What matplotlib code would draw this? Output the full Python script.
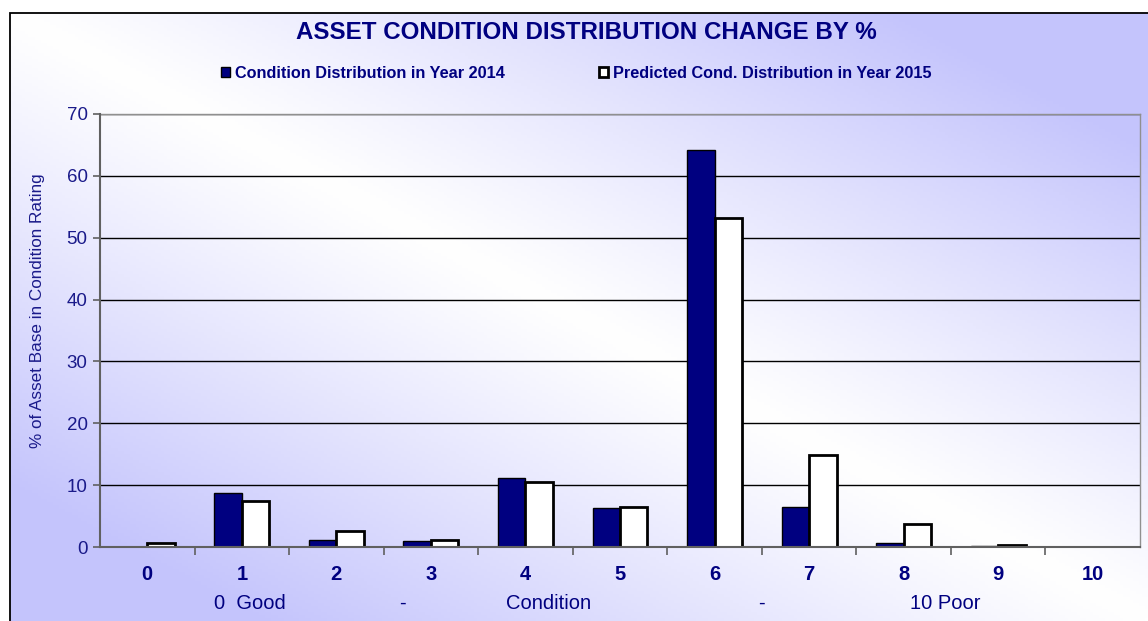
import matplotlib

matplotlib.use("Agg")
import matplotlib.pyplot as plt
import numpy as np
from matplotlib.patches import Rectangle

plt.rcParams["font.family"] = ["Liberation Sans", "DejaVu Sans"]

CATEGORIES = ["0", "1", "2", "3", "4", "5", "6", "7", "8", "9", "10"]
YEAR_2014 = [0.0, 8.7, 1.1, 1.0, 11.2, 6.3, 64.2, 6.5, 0.7, 0.1, 0.0]
YEAR_2015 = [0.6, 7.4, 2.6, 1.1, 10.5, 6.4, 53.2, 14.9, 3.7, 0.3, 0.0]
SERIES_LABELS = [
    "Condition Distribution in Year 2014",
    "Predicted Cond. Distribution in Year 2015",
]
SCALE_WORDS = [("0  Good", 1.08), ("-", 2.70), ("Condition", 4.24), ("-", 6.50), ("10 Poor", 8.44)]

NAVY = "#000080"
TEXT = "#1a1a8a"
LAVENDER = np.array([0.77, 0.77, 0.99])


def draw_background(fig):
    bg = fig.add_axes([0, 0, 1, 1], zorder=-10)
    h, w = 200, 370
    xx, yy = np.meshgrid(np.linspace(0, 1, w), np.linspace(0, 1, h))
    t = np.clip(np.abs(xx - yy) / 0.78, 0, 1)[..., None] ** 1.1
    img = (1 - t) * np.ones(3) + t * LAVENDER
    x0, y1 = 10 / 1148, 1 - 13 / 621
    bg.imshow(img, extent=(x0, 1.0, 0.0, y1), aspect="auto", origin="upper")
    bg.add_patch(Rectangle((x0, -0.01), 1.2, y1 + 0.01, fill=False, ec="black", lw=1.3))
    bg.set_xlim(0, 1)
    bg.set_ylim(0, 1)
    bg.axis("off")


def main():
    fig = plt.figure(figsize=(11.48, 6.21), dpi=100)
    fig.patch.set_facecolor("white")
    draw_background(fig)

    ax = fig.add_axes([100 / 1148, 74 / 621, 1040 / 1148, 433 / 621])
    ax.patch.set_alpha(0)
    x = np.arange(len(CATEGORIES))
    w = 0.29
    ax.bar(x - w / 2, YEAR_2014, w, color=NAVY, edgecolor="black", lw=1.0,
           label=SERIES_LABELS[0], zorder=3)
    ax.bar(x + w / 2, YEAR_2015, w, color="white", edgecolor="black", lw=2.0,
           label=SERIES_LABELS[1], zorder=3)

    ax.set_xlim(-0.5, len(CATEGORIES) - 0.5)
    ax.set_ylim(0, 70)
    ax.set_yticks(range(0, 71, 10))
    ax.yaxis.grid(True, color="black", lw=1.0, zorder=0)
    ax.set_xticks(x)
    ax.set_xticklabels(CATEGORIES, fontsize=14.5, fontweight="bold", color=NAVY)
    ax.set_xticks(np.arange(0.5, len(CATEGORIES) - 0.5, 1), minor=True)
    ax.tick_params(axis="x", which="major", length=0, pad=13)
    ax.tick_params(axis="x", which="minor", length=6, color="#606060", width=1.2)
    ax.tick_params(axis="y", length=5, color="#606060", width=1.2,
                   labelsize=13.5, labelcolor=TEXT, pad=4)
    for side in ("top", "right"):
        ax.spines[side].set_color("#909090")
        ax.spines[side].set_linewidth(1.0)
    for side in ("left", "bottom"):
        ax.spines[side].set_color("#606060")
        ax.spines[side].set_linewidth(1.5)
        ax.spines[side].set_zorder(4)

    ax.set_ylabel("% of Asset Base in Condition Rating", fontsize=12.3, color=TEXT)
    ax.yaxis.set_label_coords(-0.053, 0.545)
    for word, pos in SCALE_WORDS:
        ax.text(pos, -0.13, word, transform=ax.get_xaxis_transform(),
                ha="center", va="center", fontsize=14.5, color=NAVY)

    fig.text(586 / 1148, 1 - 32.5 / 621, "ASSET CONDITION DISTRIBUTION CHANGE BY %",
             ha="center", va="center", fontsize=17.4, fontweight="bold", color=NAVY)

    handles, labels = ax.get_legend_handles_labels()
    fig.legend(handles, labels, loc="center", bbox_to_anchor=(576 / 1148, 1 - 73 / 621),
               ncol=2, frameon=False, handlelength=0.55, handleheight=0.55,
               handletextpad=0.3, columnspacing=5.8,
               prop={"size": 11.7, "weight": "bold"}, labelcolor=NAVY)

    fig.savefig("out.png", dpi=100)


if __name__ == "__main__":
    main()
